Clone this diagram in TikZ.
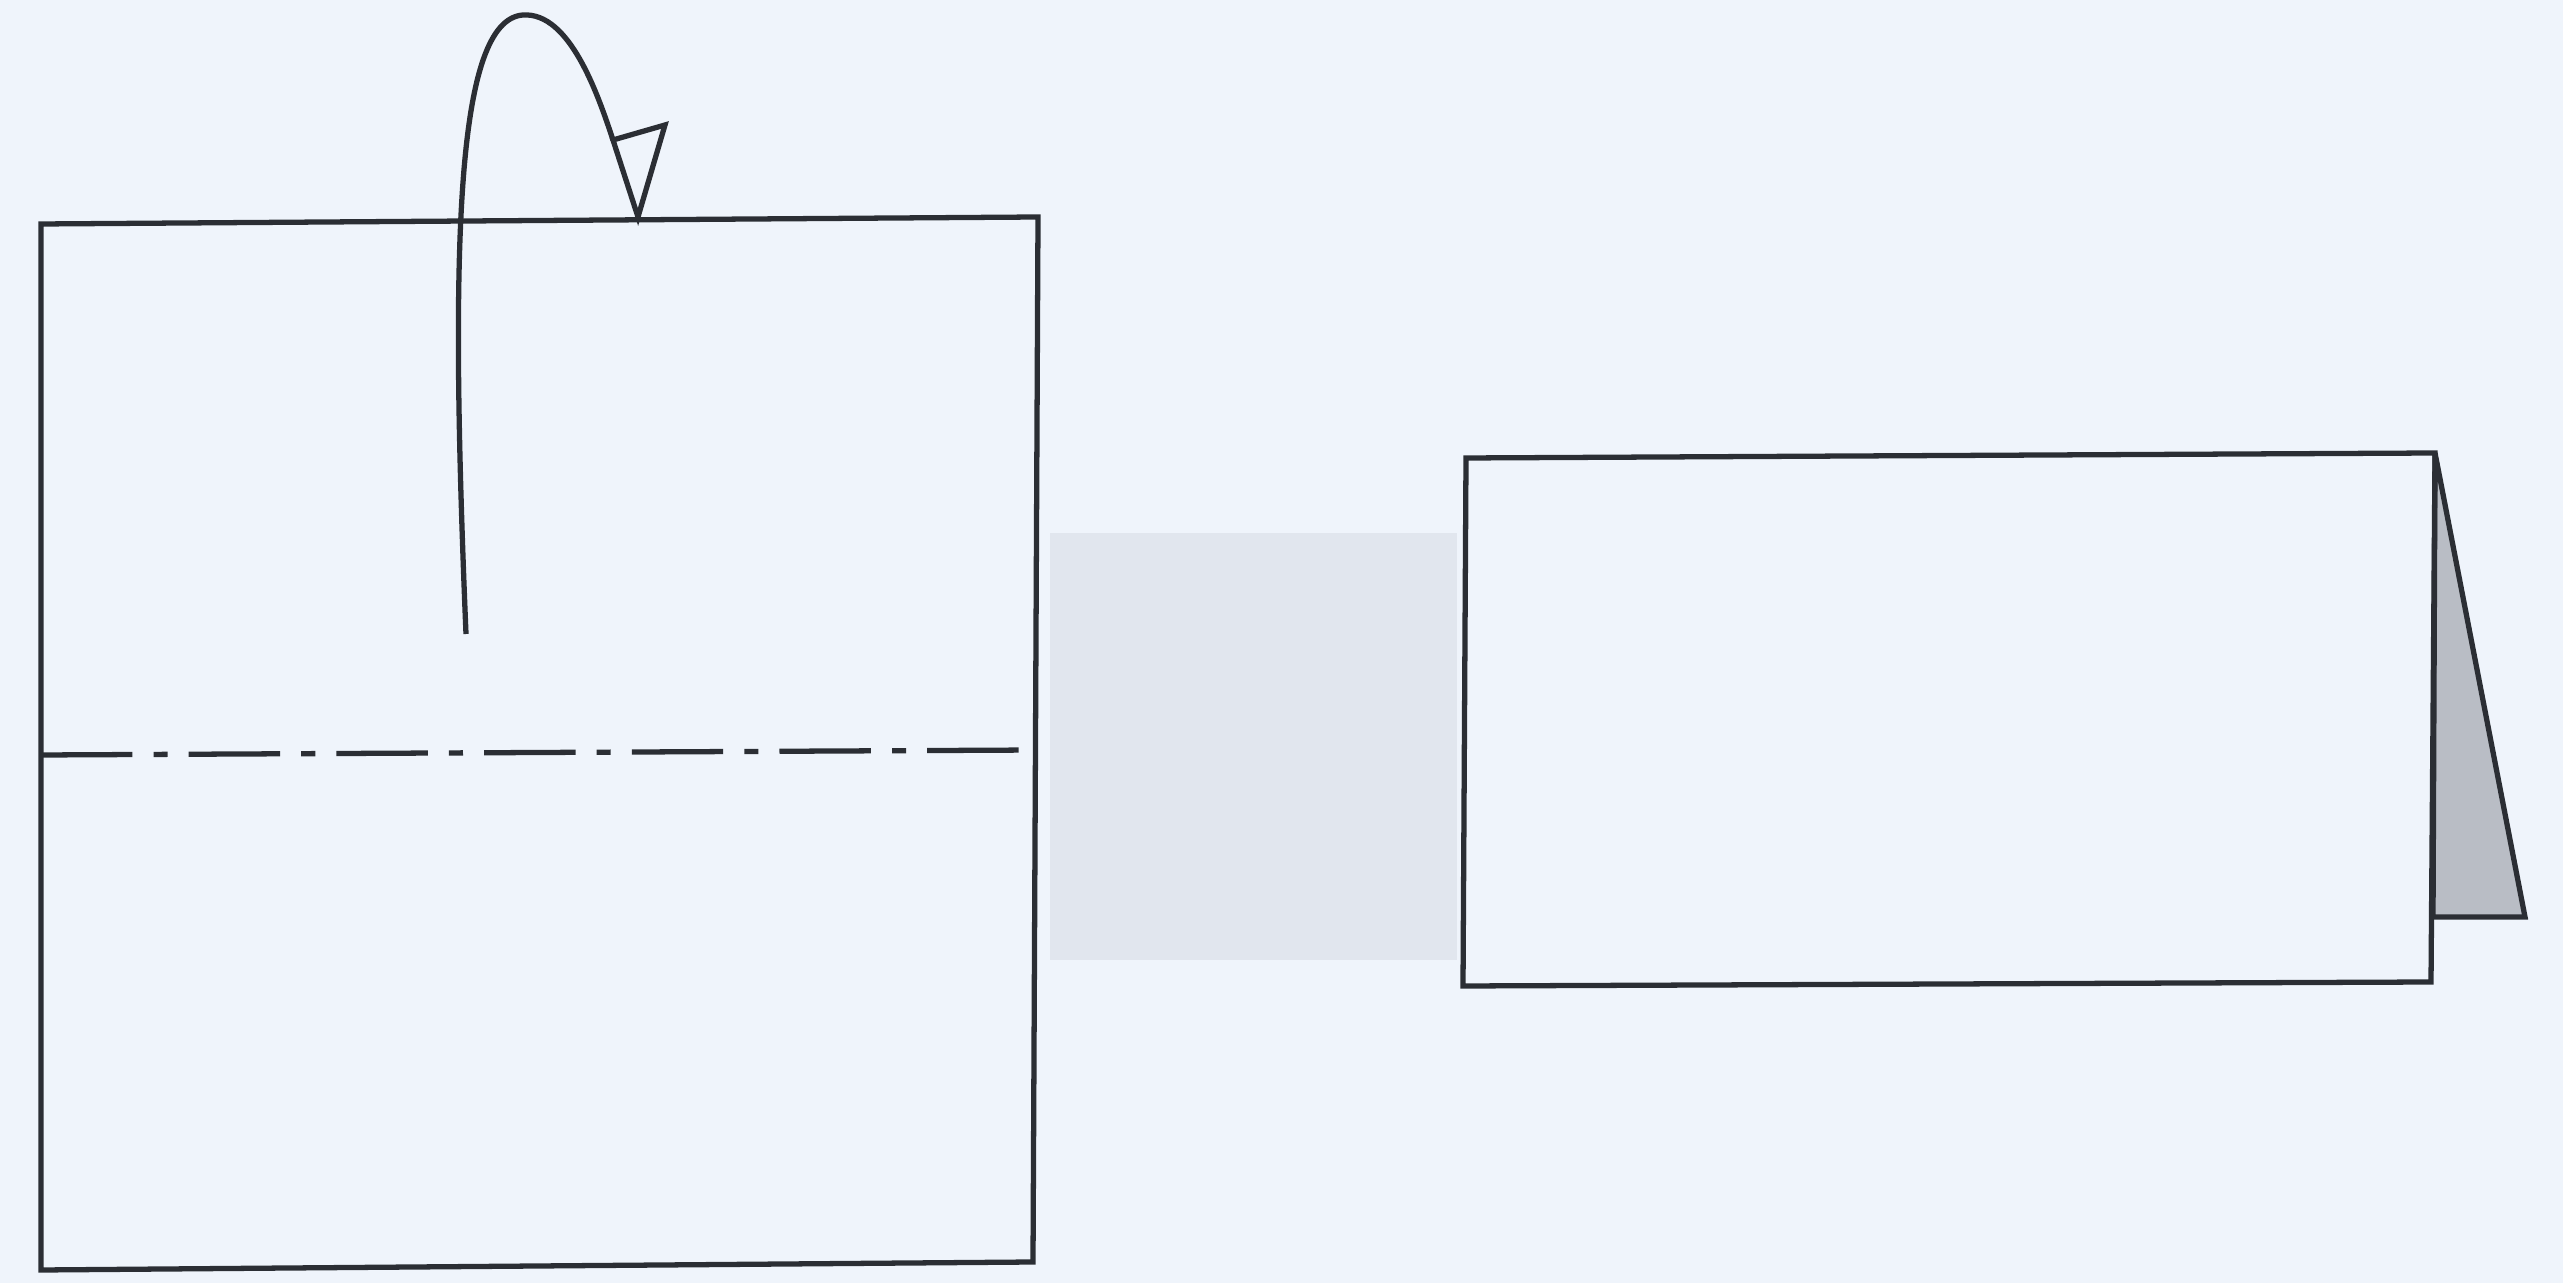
\documentclass[tikz,border=0pt]{standalone}
\usepackage{tikz}
\definecolor{paperbg}{HTML}{EFF4FB}
\definecolor{inkline}{HTML}{2B2E34}
\definecolor{shadowband}{HTML}{E1E6EE}
\definecolor{flapgray}{HTML}{B9BDC5}
\tikzset{
  sheet/.style={draw=inkline, line width=1.5pt, line join=miter},
  foldline/.style={draw=inkline, line width=1.5pt, dash pattern=on 26pt off 6pt on 4pt off 6pt},
  flap/.style={sheet, fill=flapgray},
  turnarrow/.style={draw=inkline, line width=1.5pt, line join=miter},
  band/.style={fill=shadowband},
}

\begin{document}
\begin{tikzpicture}[x=0.01cm, y=-0.01cm]
    \useasboundingbox[fill=paperbg] (0,0) rectangle (2563,1283);
    % square sheet with fold line
    \coordinate (sqTL) at (41,224);
    \coordinate (sqTR) at (1038,217);
    \coordinate (sqBR) at (1033,1262);
    \coordinate (sqBL) at (41,1270);
    \coordinate (foldL) at (41,755);
    \coordinate (foldR) at (1037,750);
    % shadow band between the two steps
    \fill[band] (1050,533) rectangle (1457,960);
    \draw[sheet] (sqTL) -- (sqTR) -- (sqBR) -- (sqBL) -- cycle;
    \draw[foldline] (foldL) -- (foldR);
    % turn-over arrow
    \coordinate (arrStart) at (466,634);
    \coordinate (arrTop) at (523,15);
    \coordinate (arrEnd) at (613,140);
    \coordinate (arrWing) at (665,125);
    \coordinate (arrTip) at (638,217);
    \draw[turnarrow] (arrStart) .. controls (450,250) and (455,20) .. (arrTop)
      .. controls (570,12) and (598,95) .. (arrEnd);
    \draw[turnarrow] (arrEnd) -- (arrWing) -- (arrTip) -- cycle;
    % folded result with standing flap
    \coordinate (recTL) at (1466,458);
    \coordinate (recTR) at (2435,453);
    \coordinate (recBR) at (2431,982);
    \coordinate (recBL) at (1463,986);
    \coordinate (flapFoot) at (2525,917);
    \coordinate (flapBack) at (2433,917);
    \draw[flap] (recTR) -- (flapFoot) -- (flapBack) -- cycle;
    \draw[sheet] (recTL) -- (recTR) -- (recBR) -- (recBL) -- cycle;
  \end{tikzpicture}
\end{document}
